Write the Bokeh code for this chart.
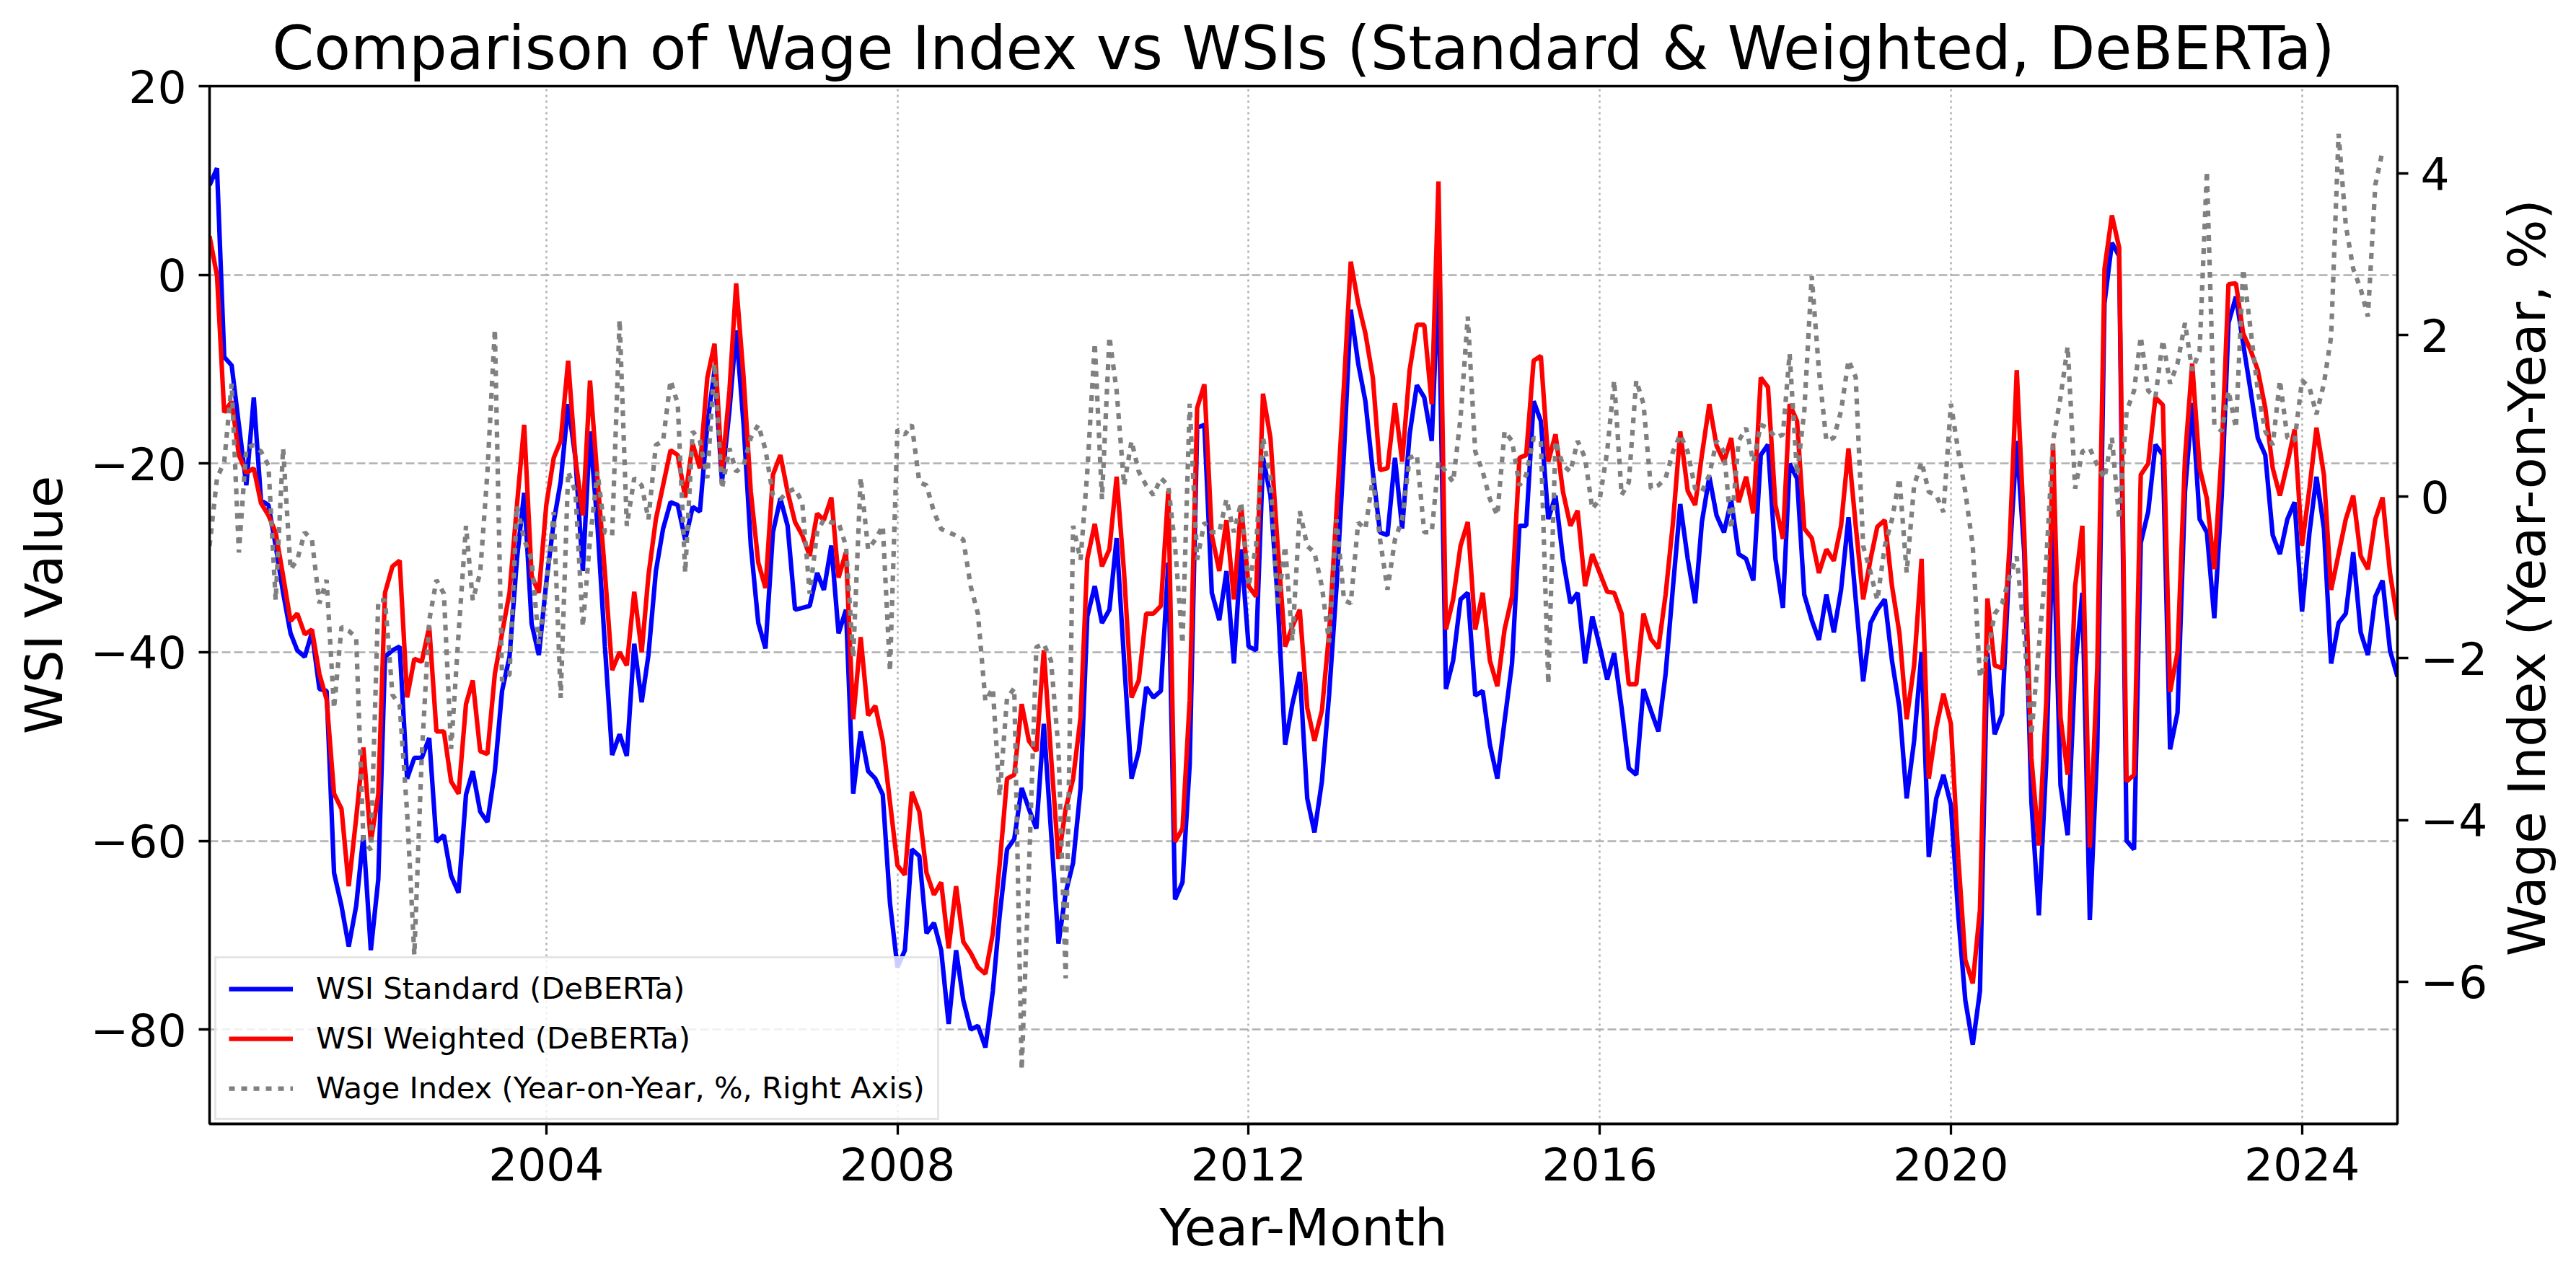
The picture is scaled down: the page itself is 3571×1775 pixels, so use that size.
import math
import pandas as pd
from bokeh.plotting import figure
from bokeh.layouts import row
from bokeh.models import (Range1d, LinearAxis, FixedTicker, Legend, LegendItem,
                          CustomJSTickFormatter, Label)
from bokeh.embed import file_html
from bokeh.resources import INLINE

# Monthly series, first month March 2000
start_month = "2000-03-01"

wsi_standard = [
    9.5, 11.3, -8.7, -9.6, -15.9, -22.3, -13.0, -23.9, -24.4, -28.7,
    -33.7, -38.0, -39.8, -40.5, -37.9, -43.9, -44.1, -63.4, -66.9, -71.2,
    -66.9, -59.4, -71.6, -64.1, -40.5, -39.8, -39.4, -53.4, -51.2, -51.2,
    -49.1, -60.1, -59.4, -63.7, -65.5, -55.1, -52.6, -56.9, -58.0, -52.6,
    -44.1, -40.5, -30.1, -23.1, -37.0, -40.3, -32.6, -26.2, -21.9, -13.7,
    -19.4, -31.4, -16.6, -26.6, -39.4, -50.9, -48.7, -51.0, -39.1, -45.3,
    -40.3, -31.4, -26.9, -24.1, -24.4, -28.1, -24.6, -25.1, -15.9, -10.1,
    -21.9, -14.4, -5.9, -15.9, -28.7, -36.9, -39.6, -27.3, -23.7, -26.6,
    -35.5, -35.3, -35.1, -31.6, -33.4, -28.7, -38.0, -35.5, -55.0, -48.4,
    -52.6, -53.4, -55.1, -66.6, -73.4, -71.6, -60.9, -61.6, -69.8, -68.7,
    -71.6, -79.4, -71.6, -76.9, -80.0, -79.6, -81.9, -75.9, -68.0, -60.9,
    -59.8, -54.4, -56.6, -58.7, -47.6, -59.0, -70.9, -65.5, -62.3, -54.4,
    -36.2, -33.0, -36.9, -35.5, -27.9, -40.9, -53.4, -50.5, -43.7, -44.8,
    -44.1, -30.5, -66.2, -64.4, -51.9, -16.2, -15.9, -33.7, -36.6, -31.4,
    -41.2, -29.1, -39.4, -39.8, -19.4, -23.4, -34.4, -49.8, -45.5, -42.1,
    -55.5, -59.1, -53.7, -44.5, -33.0, -18.7, -3.7, -9.4, -13.4, -20.9,
    -27.3, -27.6, -19.4, -26.9, -16.9, -11.7, -13.0, -17.6, -0.1, -43.9,
    -40.9, -34.4, -33.7, -44.6, -44.1, -49.8, -53.4, -47.3, -41.2, -26.6,
    -26.6, -13.4, -15.5, -25.9, -23.4, -30.1, -34.8, -33.7, -41.2, -36.2,
    -39.4, -42.9, -40.1, -45.9, -52.3, -53.0, -43.9, -46.2, -48.4, -42.3,
    -33.0, -24.3, -30.1, -34.8, -26.2, -21.4, -25.5, -27.3, -23.9, -29.6,
    -30.1, -32.4, -19.1, -18.0, -30.1, -35.3, -20.0, -21.6, -33.9, -36.6,
    -38.7, -33.9, -37.9, -33.4, -25.7, -34.4, -43.1, -36.9, -35.5, -34.4,
    -40.9, -45.9, -55.5, -49.4, -40.0, -61.7, -55.5, -53.0, -56.2, -68.0,
    -76.9, -81.6, -75.9, -40.1, -48.7, -46.6, -30.1, -17.6, -29.4, -55.9,
    -67.9, -51.6, -25.9, -54.1, -59.4, -41.6, -33.7, -68.4, -50.1, -3.0,
    3.4, 2.0, -60.0, -60.9, -28.4, -25.1, -18.0, -19.1, -50.3, -46.4,
    -23.0, -13.6, -25.9, -27.3, -36.4, -23.4, -5.1, -2.3, -7.3, -12.3,
    -17.3, -19.1, -27.6, -29.6, -25.9, -24.1, -35.7, -27.3, -21.4, -26.9,
    -41.2, -36.9, -35.9, -29.4, -37.9, -40.3, -34.1, -32.4, -39.8, -42.6,
]

wsi_weighted = [
    4.1, -0.1, -14.6, -13.4, -19.1, -21.0, -20.5, -24.2, -25.5, -27.3,
    -31.9, -36.7, -35.9, -38.1, -37.6, -42.3, -45.0, -55.0, -56.6, -64.8,
    -57.6, -50.1, -60.1, -55.1, -33.7, -30.9, -30.3, -44.8, -40.7, -41.0,
    -37.3, -48.4, -48.4, -53.7, -55.0, -45.5, -43.0, -50.5, -50.8, -42.3,
    -38.0, -33.7, -24.4, -15.9, -31.9, -33.7, -24.4, -19.4, -17.6, -9.1,
    -19.4, -25.5, -11.2, -21.6, -31.6, -41.9, -40.0, -41.4, -33.6, -40.0,
    -31.9, -25.9, -22.3, -18.6, -19.1, -23.6, -17.9, -20.5, -10.9, -7.3,
    -20.9, -12.3, -0.9, -10.9, -23.0, -30.5, -33.2, -21.2, -19.1, -23.0,
    -26.2, -27.6, -29.8, -25.3, -26.0, -23.6, -32.1, -29.4, -47.1, -38.4,
    -46.7, -45.7, -49.4, -55.9, -62.6, -63.6, -54.8, -56.9, -63.4, -65.7,
    -64.4, -71.4, -64.8, -70.7, -71.9, -73.4, -74.1, -69.8, -62.6, -53.4,
    -53.0, -45.5, -49.4, -50.5, -39.8, -51.0, -61.9, -56.6, -53.4, -46.9,
    -30.1, -26.4, -30.9, -29.1, -21.4, -31.6, -44.8, -43.0, -35.9, -35.9,
    -35.1, -22.9, -60.1, -58.7, -45.1, -14.1, -11.6, -27.6, -31.4, -26.0,
    -34.4, -24.4, -33.0, -34.1, -12.6, -17.3, -28.7, -39.4, -37.3, -35.5,
    -45.9, -49.4, -46.2, -38.0, -25.0, -11.6, 1.4, -3.0, -6.2, -10.9,
    -20.7, -20.5, -13.6, -19.8, -10.1, -5.3, -5.3, -13.7, 9.9, -37.6,
    -34.4, -28.7, -26.2, -37.6, -33.7, -40.9, -43.6, -37.6, -34.1, -19.4,
    -19.1, -9.1, -8.6, -19.8, -16.9, -23.0, -26.6, -25.0, -33.0, -29.6,
    -31.6, -33.6, -33.7, -35.9, -43.4, -43.4, -35.9, -38.6, -39.6, -33.9,
    -26.2, -16.6, -22.9, -24.4, -19.1, -13.7, -18.1, -19.8, -17.3, -24.1,
    -21.4, -25.3, -10.9, -11.9, -24.4, -28.0, -13.7, -15.5, -26.9, -27.9,
    -31.6, -29.1, -30.3, -26.6, -18.4, -26.6, -34.4, -30.1, -26.7, -26.0,
    -33.0, -38.0, -47.1, -41.4, -30.1, -53.4, -48.0, -44.4, -47.6, -61.9,
    -72.6, -75.1, -67.3, -34.3, -41.4, -41.7, -28.7, -10.1, -27.3, -51.2,
    -60.5, -45.1, -17.9, -46.9, -53.0, -33.0, -26.6, -60.7, -41.6, 0.6,
    6.3, 2.9, -53.7, -53.0, -21.2, -20.0, -13.0, -13.8, -44.2, -40.0,
    -19.4, -9.4, -20.5, -23.7, -31.2, -18.7, -1.0, -0.9, -6.2, -8.0,
    -10.1, -14.1, -20.5, -23.4, -20.0, -16.4, -28.7, -22.6, -16.2, -21.2,
    -33.4, -29.6, -25.9, -23.4, -29.8, -31.2, -25.9, -23.6, -31.6, -36.6,
]

wage_index_yoy = [
    -0.61, 0.23, 0.43, 1.40, -0.69, 0.60, 0.64, 0.56, 0.39, -1.28,
    0.60, -0.90, -0.78, -0.44, -0.53, -1.32, -1.03, -2.62, -1.61, -1.66,
    -1.74, -4.25, -4.37, -1.28, -1.28, -2.45, -2.58, -3.91, -5.67, -3.20,
    -1.53, -1.03, -1.20, -3.12, -1.70, -0.36, -1.28, -0.94, 0.30, 2.07,
    -2.28, -2.20, -0.11, -0.53, -0.78, -1.82, -1.11, -0.19, -2.49, 0.31,
    0.06, -1.61, -0.53, 0.31, -0.44, -0.48, 2.19, -0.36, 0.23, 0.14,
    -0.28, 0.64, 0.69, 1.44, 1.15, -0.94, 0.81, 0.69, 0.23, 1.65,
    0.10, 0.60, 0.31, 0.39, 0.73, 0.89, 0.58, 0.02, -0.03, 0.06,
    0.10, -0.07, -1.20, -0.44, -0.28, -0.32, -0.32, -0.61, -1.99, 0.24,
    -0.65, -0.53, -0.36, -2.16, 0.83, 0.77, 0.89, 0.18, 0.14, -0.19,
    -0.40, -0.44, -0.48, -0.53, -1.11, -1.45, -2.53, -2.37, -3.70, -2.49,
    -2.37, -7.09, -4.62, -1.86, -1.82, -2.03, -3.12, -5.96, -0.36, -0.78,
    0.31, 1.90, -0.03, 1.98, 1.31, 0.14, 0.69, 0.31, 0.14, 0.02,
    0.23, 0.14, -0.61, -1.82, 1.15, -0.78, -0.32, -0.44, -0.44, -0.03,
    -0.44, -0.07, -1.11, -0.61, 0.73, 0.23, -1.36, -0.61, -1.78, -0.18,
    -0.61, -0.69, -1.11, -1.80, -0.28, -1.28, -1.32, -0.32, -0.40, 0.23,
    -0.53, -1.15, -0.53, -0.28, 0.48, 0.52, -0.44, -0.44, 0.43, 0.31,
    0.18, 0.98, 2.23, 0.56, 0.31, -0.03, -0.23, 0.81, 0.69, 0.14,
    0.27, 0.73, 0.69, -2.32, 0.69, 0.39, 0.31, 0.69, 0.48, -0.15,
    -0.03, 0.56, 1.44, 0.02, 0.18, 1.44, 1.15, 0.10, 0.14, 0.23,
    0.56, 0.77, 0.56, 0.10, 0.06, 0.27, 0.69, 0.56, -0.40, 0.69,
    0.85, 0.43, 0.89, 0.85, 0.73, 0.77, 1.77, 0.27, 1.06, 2.73,
    1.56, 0.69, 0.73, 1.06, 1.69, 1.48, -0.61, -0.94, -1.28, -0.61,
    -0.28, 0.23, -0.94, 0.14, 0.43, 0.06, 0.02, -0.19, 1.15, 0.56,
    0.06, -0.61, -2.24, -1.95, -1.45, -1.32, -0.99, -0.74, -1.70, -2.95,
    -1.86, -0.78, 0.69, 1.23, 1.86, 0.10, 0.56, 0.60, 0.39, 0.23,
    0.73, -0.28, 1.06, 1.31, 1.98, 1.31, 1.23, 1.94, 1.40, 1.65,
    2.15, 1.56, 1.81, 4.03, 0.89, 0.81, 1.31, 0.85, 2.82, 2.07,
    1.31, 0.81, 0.64, 1.44, 0.73, 0.69, 1.44, 1.35, 1.02, 1.40,
    1.98, 4.49, 3.36, 2.82, 2.57, 2.23, 3.86, 4.28,
]

wsi_ticks = [-80, -60, -40, -20, 0, 20]
wage_ticks = [-6, -4, -2, 0, 2, 4]
year_ticks = [2004, 2008, 2012, 2016, 2020, 2024]

months = pd.date_range(start_month, periods=len(wsi_standard), freq="MS")
wage_months = months[:len(wage_index_yoy)]

FONT = "DejaVu Sans"
LW = 6.25
H = 1775
MAIN_W, SIDE_W = 3451, 120          # main chart + strip holding the right-hand title
BORDER_L, BORDER_R, BORDER_T, BORDER_B = 290, 127, 119, 217

p = figure(
    width=MAIN_W, height=H,
    x_axis_type="datetime",
    x_range=Range1d(months[0], months[-1]),
    y_range=Range1d(-90, 20),
    output_backend="svg", toolbar_location=None,
    min_border_left=BORDER_L, min_border_right=BORDER_R,
    min_border_top=BORDER_T, min_border_bottom=BORDER_B,
    title="Comparison of Wage Index vs WSIs (Standard & Weighted, DeBERTa)",
)
p.extra_y_ranges = {"wage": Range1d(-7.76, 5.08)}

p.title.text_font = FONT
p.title.text_font_size = "83px"
p.title.text_font_style = "normal"
p.title.text_color = "black"
p.title.align = "center"
p.title.standoff = 8

r_std = p.line(months, wsi_standard, line_color="#0000ff", line_width=LW)
r_wtd = p.line(months, wsi_weighted, line_color="#ff0000", line_width=LW)
r_wage = p.line(wage_months, wage_index_yoy, y_range_name="wage",
                line_color="#808080", line_width=LW, line_dash="8 9")

wage_axis = LinearAxis(y_range_name="wage", ticker=FixedTicker(ticks=wage_ticks))
p.add_layout(wage_axis, "right")

minus_fmt = "return (tick < 0 ? '\\u2212' + (-tick) : '' + tick);"
p.yaxis[0].ticker = FixedTicker(ticks=wsi_ticks)
p.yaxis[0].axis_label = "WSI Value"
for ax in p.yaxis:
    ax.formatter = CustomJSTickFormatter(code=minus_fmt)

year_ms = [pd.Timestamp(f"{y}-01-01").value // 10**6 for y in year_ticks]
p.xaxis.ticker = FixedTicker(ticks=year_ms)
p.xaxis.formatter = CustomJSTickFormatter(
    code="return '' + new Date(tick).getUTCFullYear();")
p.xaxis.axis_label = "Year-Month"

for ax in list(p.xaxis) + list(p.yaxis):
    ax.axis_label_text_font = FONT
    ax.axis_label_text_font_size = "72px"
    ax.axis_label_text_font_style = "normal"
    ax.axis_label_text_color = "black"
    ax.axis_label_standoff = 20
    ax.major_label_text_font = FONT
    ax.major_label_text_font_size = "63px"
    ax.major_label_text_color = "black"
    ax.major_label_standoff = 17
    ax.major_tick_out = 15
    ax.major_tick_in = 0
    ax.major_tick_line_width = 3.3
    ax.major_tick_line_color = "black"
    ax.minor_tick_out = 0
    ax.minor_tick_in = 0
    ax.axis_line_width = 3.3
    ax.axis_line_color = "black"

p.outline_line_color = "black"
p.outline_line_width = 3.3

p.ygrid.grid_line_color = "#b0b0b0"
p.ygrid.grid_line_width = 2.5
p.ygrid.grid_line_dash = "12 5"
p.xgrid.grid_line_color = "#b0b0b0"
p.xgrid.grid_line_width = 2.5
p.xgrid.grid_line_dash = "3 5"

legend = Legend(
    items=[
        LegendItem(label="WSI Standard (DeBERTa)", renderers=[r_std]),
        LegendItem(label="WSI Weighted (DeBERTa)", renderers=[r_wtd]),
        LegendItem(label="Wage Index (Year-on-Year, %, Right Axis)", renderers=[r_wage]),
    ],
    location=(7, 5),
)
legend.label_text_font = FONT
legend.label_text_font_size = "41.7px"
legend.label_text_color = "black"
legend.glyph_width = 89
legend.glyph_height = 42
legend.label_height = 42
legend.label_standoff = 32
legend.spacing = 20
legend.padding = 17
legend.margin = 0
legend.border_line_color = "#cccccc"
legend.border_line_width = 3
legend.background_fill_alpha = 0.8
p.add_layout(legend)

# Narrow strip to the right carrying the right-axis title, read bottom-to-top
side = figure(
    width=SIDE_W, height=H,
    x_range=Range1d(0, SIDE_W), y_range=Range1d(0, H),
    output_backend="svg", toolbar_location=None,
    min_border=0, x_axis_location=None, y_axis_location=None,
)
side.outline_line_color = None
side.xgrid.visible = False
side.ygrid.visible = False
side.add_layout(Label(
    x=51, y=H - 841, text="Wage Index (Year-on-Year, %)",
    angle=math.pi / 2, text_align="center", text_baseline="middle",
    text_font=FONT, text_font_size="72px", text_color="black",
))

layout = row(p, side, spacing=0)
open("out.html", "w").write(file_html(layout, INLINE))
